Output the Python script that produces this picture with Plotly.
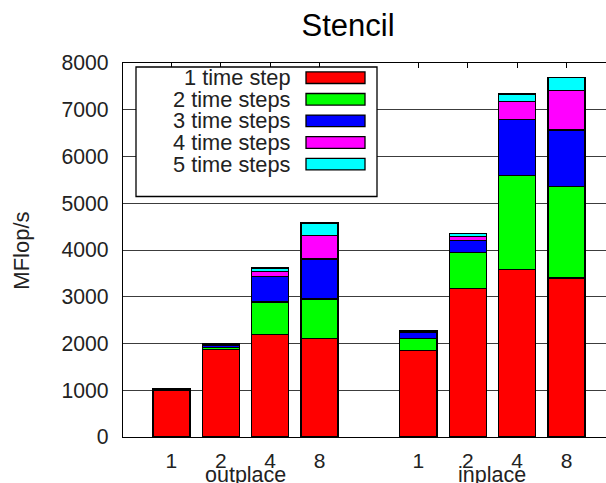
import plotly.graph_objects as go

# Stencil throughput, stacked by number of fused time steps
groups = ["outplace", "inplace"]
threads = ["1", "2", "4", "8"]
series_names = ["1 time step", "2 time steps", "3 time steps", "4 time steps", "5 time steps"]
series_colors = ["#ff0000", "#00ff00", "#0000ff", "#ff00ff", "#00ffff"]

# MFlop/s contribution of each step count, outplace 1,2,4,8 then inplace 1,2,4,8
step1 = [1000, 1870, 2190, 2110, 1850, 3170, 3580, 3400]
step2 = [10, 45, 700, 845, 257, 770, 2010, 1965]
step3 = [8, 35, 550, 850, 122, 263, 1200, 1200]
step4 = [6, 25, 105, 505, 30, 93, 380, 845]
step5 = [6, 20, 70, 265, 25, 60, 170, 280]
series_values = [step1, step2, step3, step4, step5]

y_ticks = [0, 1000, 2000, 3000, 4000, 5000, 6000, 7000, 8000]

# x positions: one slot per bar, an empty slot between the two groups
xpos = []
xlabels = []
for gi, g in enumerate(groups):
    for ti, t in enumerate(threads):
        xpos.append(gi * 5 + ti + 1)
        xlabels.append(t)

FONT = "Liberation Sans, Arial, sans-serif"
TXT = "#222222"

fig = go.Figure()
for name, color, vals in zip(series_names, series_colors, series_values):
    fig.add_trace(go.Bar(
        x=xpos, y=vals, name=name, width=0.75,
        marker=dict(color=color, line=dict(color="black", width=1.3)),
        showlegend=False,
    ))

fig.update_layout(
    width=606, height=483,
    margin=dict(l=123, r=0, t=63, b=46),
    barmode="stack",
    plot_bgcolor="white", paper_bgcolor="white",
    font=dict(family=FONT, size=21, color=TXT),
    title=dict(text="Stencil", x=0.466, xref="paper", xanchor="center",
               y=0.947, yref="container", yanchor="middle",
               font=dict(size=31, color="black")),
)

fig.update_xaxes(
    range=[0.02, 9.8],
    tickmode="array", tickvals=xpos, ticktext=xlabels,
    showgrid=False, zeroline=False,
    showline=True, linecolor="black", linewidth=1.3, mirror="ticks",
    ticks="inside", ticklen=5, tickwidth=1.3, tickcolor="black",
    ticklabelstandoff=5,
    layer="below traces",
    tickfont=dict(size=21, color=TXT),
)
fig.update_yaxes(
    range=[0, 8000],
    tickmode="array", tickvals=y_ticks,
    showgrid=True, gridcolor="#3c3c3c", gridwidth=1.3,
    zeroline=False,
    showline=True, linecolor="black", linewidth=1.3,
    ticks="", ticklabelstandoff=9,
    layer="below traces",
    tickfont=dict(size=21.2, color=TXT),
)

# group captions under the thread counts
for gi, g in enumerate(groups):
    centre = gi * 5 + 2.5
    fig.add_annotation(x=centre, xref="x", y=-0.102, yref="paper",
                       text=g, showarrow=False, yanchor="middle",
                       font=dict(size=21.5, color=TXT))

# y axis caption
fig.add_annotation(x=-0.210, xref="paper", y=0.497, yref="paper",
                   text="MFlop/s", textangle=-90, showarrow=False,
                   xanchor="center", yanchor="middle",
                   font=dict(size=22, color=TXT))

# key box: labels right-aligned, colour swatch to the right
def px_x(p):
    return (p - 123) / 483.0

def px_y(p):
    return (437.5 - p) / 374.0

fig.add_shape(type="rect", xref="paper", yref="paper",
              x0=px_x(136), x1=px_x(377), y0=px_y(197), y1=px_y(67.5),
              fillcolor="white", line=dict(color="black", width=1.3))
row_y0 = 78.2
row_step = 21.6
for i, (name, color) in enumerate(zip(series_names, series_colors)):
    cy = row_y0 + i * row_step
    fig.add_shape(type="rect", xref="paper", yref="paper",
                  x0=px_x(306), x1=px_x(365), y0=px_y(cy + 5.8), y1=px_y(cy - 5.8),
                  fillcolor=color, line=dict(color="black", width=1.3))
    fig.add_annotation(x=px_x(293), xref="paper", y=px_y(cy), yref="paper",
                       text=name, showarrow=False, xanchor="right", yanchor="middle",
                       font=dict(size=21.8, color=TXT))

fig.write_html("out.html")
